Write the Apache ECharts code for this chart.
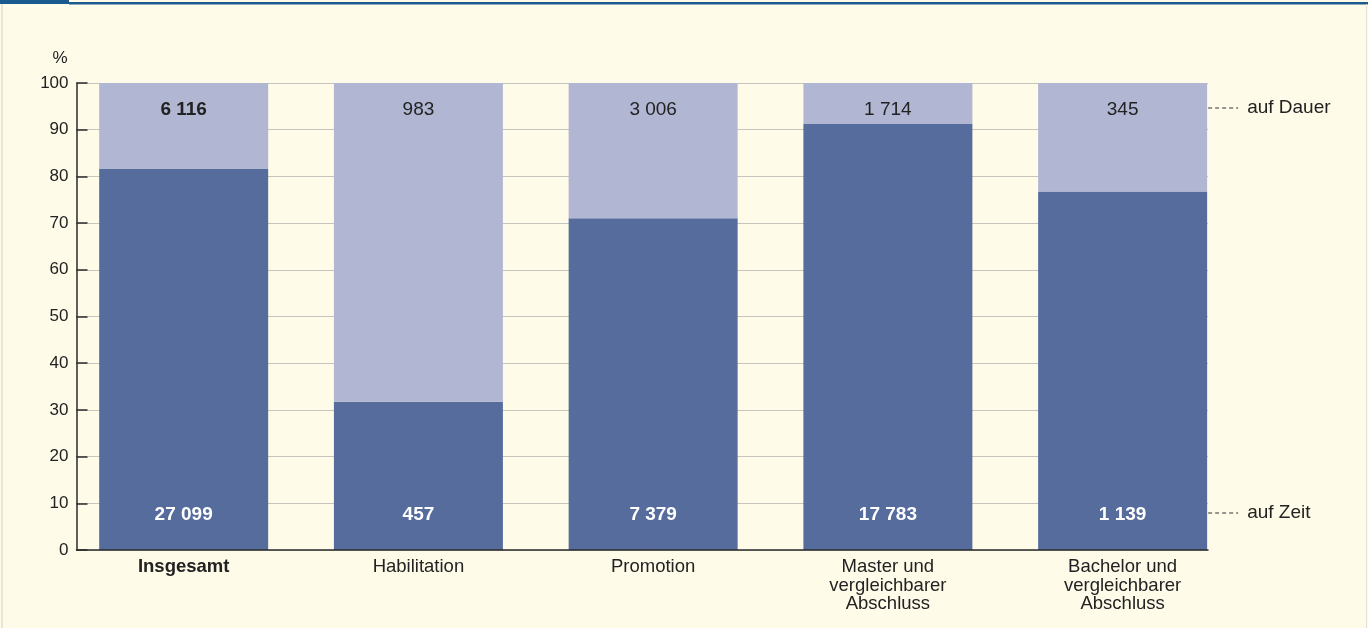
<!DOCTYPE html>
<html>
<head>
<meta charset="utf-8">
<script src="https://cdn.jsdelivr.net/npm/echarts@6/dist/echarts.min.js"></script>
<style>
  html, body { margin: 0; padding: 0; background: #fffbe9; }
  #chart { width: 1368px; height: 628px; }
</style>
</head>
<body>
<div id="chart"></div>
<script>
// ---- data ----
const categories = ['Insgesamt', 'Habilitation', 'Promotion', 'Master und\nvergleichbarer\nAbschluss', 'Bachelor und\nvergleichbarer\nAbschluss'];
const aufZeit = [27099, 457, 7379, 17783, 1139];
const aufDauer = [6116, 983, 3006, 1714, 345];
const yTicks = [0, 10, 20, 30, 40, 50, 60, 70, 80, 90, 100];
const legendNames = ['auf Dauer', 'auf Zeit'];

// ---- derived ----
const zeitPct = aufZeit.map((v, i) => v / (v + aufDauer[i]) * 100);
const dauerPct = aufDauer.map((v, i) => v / (v + aufZeit[i]) * 100);
const fmt = n => String(n).replace(/\B(?=(\d{3})+(?!\d))/g, ' ');

// ---- style ----
const DARK = '#566c9d';
const LIGHT = '#b1b6d3';
const TXT = '#222222';
const FONT = 'Liberation Sans, Arial, Helvetica, sans-serif';
const FS = 19;
const CFS = 18.5;
const TOP_DIST = 17;
const BOT_DIST = 25.5;

const chart = echarts.init(document.getElementById('chart'), null, { renderer: 'canvas' });

const option = {
  backgroundColor: '#fffbe9',
  animation: false,
  textStyle: { fontFamily: FONT },
  grid: [
    { left: 66.3, right: 128, top: 83, bottom: 78 },
    { left: 76.5, right: 160, top: 83, bottom: 78 }
  ],
  xAxis: [
    {
      type: 'category', gridIndex: 0, data: categories,
      axisLine: { show: false }, axisTick: { show: false },
      axisLabel: {
        color: TXT, fontSize: CFS, fontFamily: FONT, lineHeight: 18.5, margin: 8, interval: 0,
        formatter: (v, i) => i === 0 ? '{b|' + v + '}' : v,
        rich: { b: { fontWeight: 'bold', fontSize: CFS, color: TXT, fontFamily: FONT } }
      }
    },
    {
      type: 'category', gridIndex: 1, data: [''],
      axisLine: { show: true, lineStyle: { color: '#2b2b2b', width: 1.5 } },
      axisTick: { show: false }, axisLabel: { show: false }, z: 5
    }
  ],
  yAxis: [
    { type: 'value', gridIndex: 0, min: 0, max: 100, show: false, splitLine: { show: false } },
    {
      type: 'value', gridIndex: 1, min: 0, max: 100, interval: 10,
      name: '%', nameLocation: 'end', nameGap: 16,
      nameTextStyle: { color: TXT, fontSize: 17, fontFamily: FONT, align: 'right', padding: [0, 9, 0, 0] },
      axisLine: { show: true, lineStyle: { color: '#2b2b2b', width: 1.5 } },
      axisTick: { show: true, inside: true, length: 11, lineStyle: { color: '#2b2b2b', width: 1.5 } },
      axisLabel: { color: TXT, fontSize: 17, fontFamily: FONT, margin: 8,
        formatter: v => yTicks.includes(v) ? String(v) : '' },
      splitLine: { show: true, lineStyle: { color: '#c6c5bd', width: 1 } }
    }
  ],
  series: [
    {
      name: legendNames[1], type: 'bar', stack: 'a', xAxisIndex: 0, yAxisIndex: 0,
      barWidth: 169, itemStyle: { color: DARK },
      data: zeitPct.map((p, i) => ({ value: p, raw: aufZeit[i] })),
      label: {
        show: true, position: 'insideBottom', distance: BOT_DIST,
        color: '#ffffff', fontWeight: 'bold', fontSize: FS, fontFamily: FONT,
        formatter: p => fmt(p.data.raw)
      }
    },
    {
      name: legendNames[0], type: 'bar', stack: 'a', xAxisIndex: 0, yAxisIndex: 0,
      barWidth: 169, itemStyle: { color: LIGHT },
      data: dauerPct.map((p, i) => ({
        value: p, raw: aufDauer[i],
        label: i === 0 ? { fontWeight: 'bold' } : {}
      })),
      label: {
        show: true, position: 'insideTop', distance: TOP_DIST,
        color: TXT, fontWeight: 'normal', fontSize: FS, fontFamily: FONT,
        formatter: p => fmt(p.data.raw)
      }
    }
  ]
};
chart.setOption(option);

// legend annotations aligned with the label rows
const yTop = chart.convertToPixel({ yAxisIndex: 0 }, 100);
const yBot = chart.convertToPixel({ yAxisIndex: 0 }, 0);
const lastX = chart.convertToPixel({ xAxisIndex: 0 }, categories[categories.length - 1]);
const xStart = lastX + 169 / 2 + 1;
const rowTop = yTop + 25;
const rowBot = yBot - 37;
const legendRow = (y, text) => ([
  { type: 'line', shape: { x1: xStart, y1: y, x2: xStart + 30, y2: y },
    style: { stroke: '#333', lineWidth: 1, lineDash: [4, 3] } },
  { type: 'text', x: xStart + 39, y: y,
    style: { text: text, fill: TXT, font: '19px ' + FONT, textVerticalAlign: 'middle', verticalAlign: 'middle' } }
]);
chart.setOption({
  graphic: [
    { type: 'rect', shape: { x: 0, y: 0, width: 69, height: 4 }, style: { fill: '#1b5a8e' } },
    { type: 'rect', shape: { x: 69, y: 2, width: 1299, height: 2.5 }, style: { fill: '#1b5a8e' } },
    { type: 'rect', shape: { x: 1.5, y: 4, width: 1, height: 624 }, style: { fill: '#d4d2c8' } },
    { type: 'rect', shape: { x: 1366, y: 4, width: 1, height: 624 }, style: { fill: '#e4e1d4' } },
    ...legendRow(rowTop, legendNames[0]),
    ...legendRow(rowBot, legendNames[1])
  ]
});
</script>
</body>
</html>
